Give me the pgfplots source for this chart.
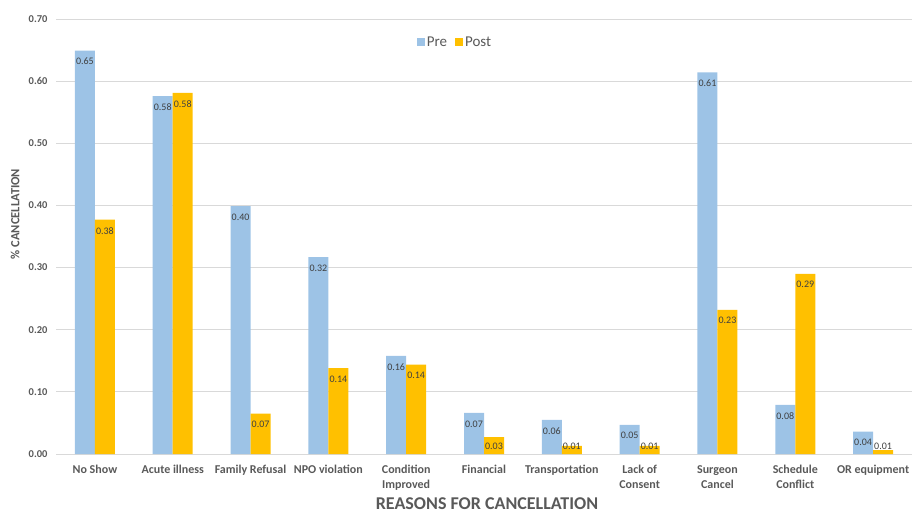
\documentclass[border=0pt]{standalone}
\usepackage{pgfplots}
\pgfplotsset{compat=1.18}
\usepackage{fontspec}
\setmainfont{Carlito}
\definecolor{preblue}{HTML}{9DC3E6}
\definecolor{postgold}{HTML}{FFC000}
\definecolor{gridgray}{HTML}{D9D9D9}
\definecolor{ticktext}{HTML}{595959}
\definecolor{labeltext}{HTML}{404040}
\begin{document}
\begin{tikzpicture}
\path[use as bounding box] (-56bp,-60bp) rectangle (856bp,454bp);
\begin{axis}[
  scale only axis,
  width=856bp, height=435bp,
  ybar=0pt, bar width=20bp,
  xmin=-0.5, xmax=10.5,
  ymin=0, ymax=0.7,
  xtick={0,...,10},
  xticklabels={No Show,Acute illness,Family Refusal,NPO violation,{Condition\\Improved},Financial,Transportation,{Lack of\\Consent},{Surgeon\\Cancel},{Schedule\\Conflict},OR equipment},
  ytick={0,0.1,...,0.7},
  yticklabel={\pgfmathprintnumber[fixed,fixed zerofill,precision=2]{\tick}},
  /pgf/number format/assume math mode=true,
  major tick length=0pt,
  axis line style={draw=none},
  ymajorgrids, grid style={gridgray, line width=0.8bp},
  xticklabel style={font=\fontsize{12bp}{15bp}\selectfont\bfseries, text=ticktext, align=center, yshift=-8bp},
  yticklabel style={font=\fontsize{10.5bp}{12bp}\selectfont\bfseries, text=ticktext, xshift=-5bp},
  nodes near coords={\pgfmathprintnumber[fixed,fixed zerofill,precision=2]{\pgfplotspointmeta}},
  visualization depends on={rawy \as \rawy},
  every node near coord/.append style={font=\fontsize{10bp}{11bp}\selectfont, text=labeltext, anchor=center, inner sep=0pt, yshift={-min(11,\rawy*621.4-8)}},
  legend style={at={(399bp,412bp)}, anchor=center, draw=none, fill=none, legend columns=2, font=\fontsize{15bp}{17bp}\selectfont, text=ticktext, nodes={inner sep=2bp}, /tikz/every even column/.append style={column sep=6bp}},
  legend image code/.code={\fill[#1] (0bp,-4bp) rectangle (8bp,4bp);},
  clip=false,
]
\addplot[fill=preblue, draw=none] coordinates {(0,0.649) (1,0.576) (2,0.399) (3,0.317) (4,0.158) (5,0.066) (6,0.055) (7,0.047) (8,0.614) (9,0.079) (10,0.036)};
\addplot[fill=postgold, draw=none] coordinates {(0,0.377) (1,0.581) (2,0.065) (3,0.138) (4,0.144) (5,0.027) (6,0.013) (7,0.013) (8,0.232) (9,0.290) (10,0.0064)};
\legend{Pre,Post}
\end{axis}
\node[font=\fontsize{18bp}{20bp}\selectfont\bfseries, text=ticktext, anchor=base, inner sep=0pt] at (431bp,-55bp) {REASONS FOR CANCELLATION};
\node[font=\fontsize{12.5bp}{14bp}\selectfont\bfseries, text=ticktext, rotate=90] at (-41bp,240bp) {\% CANCELLATION};
\end{tikzpicture}
\end{document}
